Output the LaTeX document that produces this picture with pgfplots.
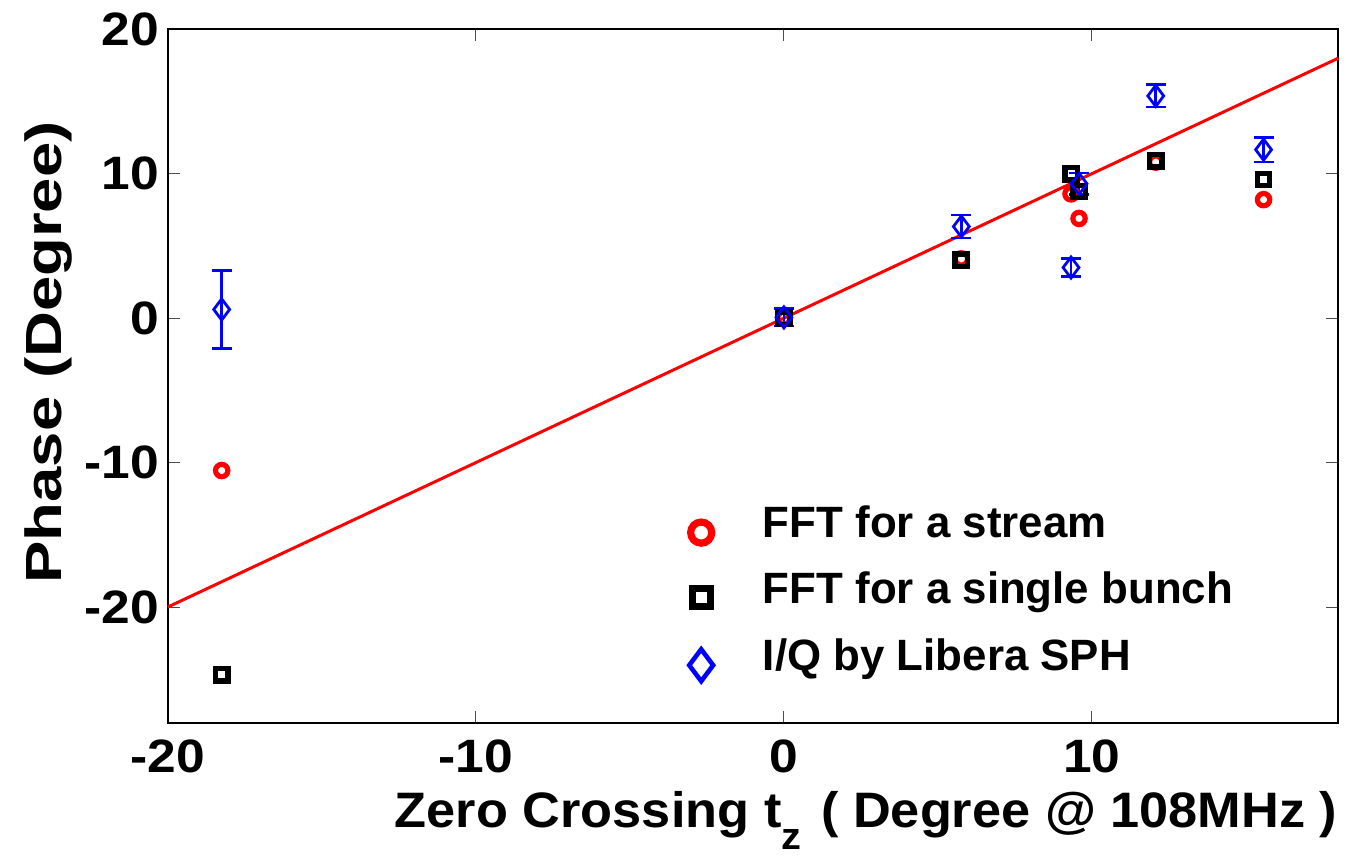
\documentclass[border=0pt]{standalone}
\usepackage{pgfplots}
\pgfplotsset{compat=1.18}
\usepackage{pgfplotstable}
\usepackage{fontspec}
\setmainfont{Liberation Sans}
\newfontfamily\tickfont[FakeStretch=1.1]{Liberation Sans}
\newfontfamily\xlabfont[FakeStretch=1.05]{Liberation Sans}
\newfontfamily\ylabfont[FakeStretch=1.25]{Liberation Sans}
\pgfplotstableread{
x y
-18.25 -10.55
0 0
5.76 4.1
9.32 8.6
9.58 6.9
12.07 10.8
15.57 8.2
}\red
\pgfplotstableread{
x y
-18.25 -24.7
0 0
5.76 4.0
9.32 10.0
9.58 8.76
12.07 10.9
15.57 9.6
}\blk
\pgfplotstableread{
x y e
-18.25 0.6 2.7
0 0.05 0.6
5.76 6.34 0.8
9.32 3.5 0.6
9.58 9.3 0.75
12.07 15.38 0.77
15.57 11.66 0.85
}\blu
\begin{document}
\begin{tikzpicture}
\begin{axis}[
  scale only axis,
  width=587.5pt, height=348pt,
  xmin=-20, xmax=18, ymin=-28, ymax=20,
  xtick={-20,-10,0,10}, xticklabels={-20,-10,0,10},
  ytick={-20,-10,0,10,20}, yticklabels={-20,-10,0,10,20},
  tick pos=both, tick align=inside,
  major tick length=6pt,
  tick style={black!70, line width=0.5pt},
  axis line style={line width=1pt},
  ticklabel style={font=\tickfont\fontsize{23.5}{26}\selectfont\bfseries},
  xticklabel style={yshift=-5pt},
  yticklabel style={xshift=-1pt},
  xlabel={Zero Crossing t\raisebox{-11pt}{\fontsize{19}{20}\selectfont z}\hspace{10pt}( Degree @ 108MHz )},
  xlabel style={font=\xlabfont\fontsize{25}{28}\selectfont\bfseries, at={(rel axis cs:1,0)}, anchor=base east, yshift=-52.5pt, xshift=3pt},
  ylabel={Phase (Degree)},
  ylabel style={font=\ylabfont\fontsize{25.5}{28}\selectfont\bfseries, at={(axis description cs:-0.102,0.534)}, anchor=center},
  legend style={draw=none, fill=none, at={(axis description cs:0.44,0.30)}, anchor=north west,
    font=\fontsize{22}{25}\selectfont\bfseries, row sep=19pt,
    nodes={text height=0.75em, text depth=0.22em},
    /tikz/every odd column/.append style={column sep=23pt}},
  legend cell align=left,
  clip=false,
]
\addplot[red, line width=1.5pt, forget plot] coordinates {(-20,-20) (18,18)};
\addplot[only marks, red, mark=o, mark size=3.1pt, mark options={line width=2.6pt},
  legend image code/.code={\draw[red, only marks, mark=o, mark size=5.3pt, mark options={line width=3.6pt}] plot coordinates {(0.3cm,0cm)};}] table {\red};
\addlegendentry{FFT for a stream}
\addplot[only marks, black, mark=square, mark size=3.1pt, mark options={line width=2.7pt},
  legend image code/.code={\draw[black, only marks, mark=square, mark size=4.6pt, mark options={line width=3.5pt}] plot coordinates {(0.3cm,0cm)};}] table {\blk};
\addlegendentry{FFT for a single bunch}
\addplot[only marks, blue, mark=diamond, mark size=5.3pt, mark options={line width=1.4pt},
  legend image code/.code={\draw[blue, only marks, mark=diamond, mark size=8pt, mark options={line width=2.3pt}] plot coordinates {(0.3cm,0cm)};},
  error bars/.cd, y dir=both, y explicit,
  error bar style={blue, line width=1.4pt},
  error mark options={rotate=90, mark size=5pt, blue, line width=1.4pt}]
  table[x=x, y=y, y error=e] {\blu};
\addlegendentry{I/Q by Libera SPH}
\end{axis}
\path ([xshift=-9pt]current bounding box.west) ([shift={(1pt,3pt)}]current bounding box.north east);
\end{tikzpicture}
\end{document}
